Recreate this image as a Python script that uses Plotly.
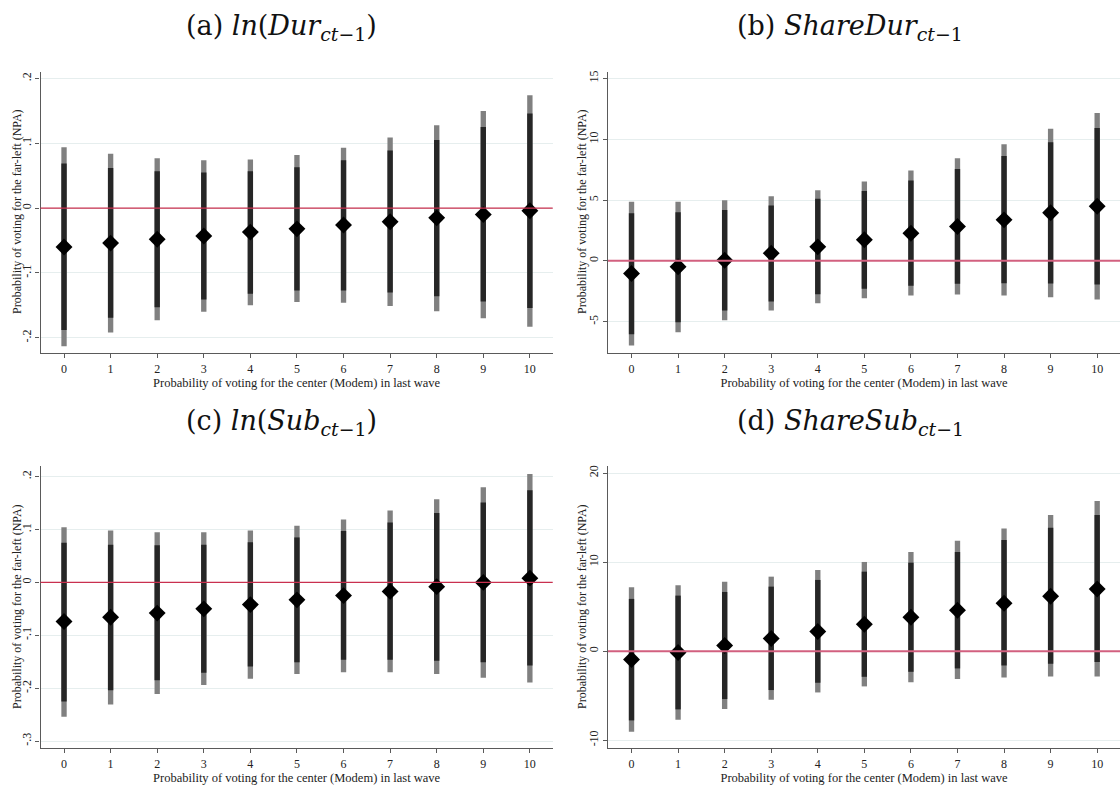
import plotly.graph_objects as go
from plotly.subplots import make_subplots

x = [0, 1, 2, 3, 4, 5, 6, 7, 8, 9, 10]

# (a) ln(Dur)
est_a = [-0.060, -0.054, -0.048, -0.043, -0.037, -0.032, -0.026, -0.021, -0.015, -0.010, -0.004]
in_hi_a = [0.069, 0.062, 0.057, 0.055, 0.057, 0.063, 0.074, 0.089, 0.105, 0.125, 0.146]
in_lo_a = [-0.188, -0.169, -0.153, -0.141, -0.132, -0.127, -0.127, -0.130, -0.136, -0.144, -0.154]
out_hi_a = [0.094, 0.084, 0.077, 0.074, 0.075, 0.082, 0.093, 0.109, 0.128, 0.150, 0.174]
out_lo_a = [-0.213, -0.192, -0.173, -0.160, -0.150, -0.145, -0.146, -0.151, -0.159, -0.170, -0.183]

# (b) ShareDur
est_b = [-1.04, -0.49, 0.05, 0.63, 1.15, 1.73, 2.27, 2.82, 3.37, 3.95, 4.49]
in_hi_b = [3.92, 4.00, 4.19, 4.55, 5.10, 5.75, 6.60, 7.56, 8.63, 9.75, 10.93]
in_lo_b = [-6.03, -5.04, -4.08, -3.34, -2.74, -2.30, -2.05, -1.89, -1.84, -1.86, -1.95]
out_hi_b = [4.85, 4.85, 4.99, 5.32, 5.81, 6.52, 7.42, 8.44, 9.59, 10.85, 12.16]
out_lo_b = [-6.96, -5.86, -4.88, -4.08, -3.48, -3.07, -2.85, -2.77, -2.85, -2.99, -3.18]

# (c) ln(Sub)
est_c = [-0.074, -0.066, -0.058, -0.050, -0.042, -0.033, -0.025, -0.017, -0.008, 0.000, 0.008]
in_hi_c = [0.075, 0.071, 0.070, 0.071, 0.076, 0.085, 0.097, 0.113, 0.131, 0.151, 0.174]
in_lo_c = [-0.225, -0.204, -0.185, -0.171, -0.159, -0.151, -0.146, -0.146, -0.148, -0.151, -0.157]
out_hi_c = [0.104, 0.098, 0.095, 0.095, 0.098, 0.107, 0.119, 0.136, 0.157, 0.180, 0.205]
out_lo_c = [-0.254, -0.231, -0.211, -0.194, -0.182, -0.173, -0.170, -0.170, -0.173, -0.180, -0.189]

# (d) ShareSub
est_d = [-0.93, -0.15, 0.64, 1.42, 2.21, 3.03, 3.81, 4.60, 5.38, 6.17, 6.99]
in_hi_d = [5.87, 6.24, 6.65, 7.25, 8.00, 8.93, 9.94, 11.14, 12.49, 13.87, 15.29]
in_lo_d = [-7.78, -6.54, -5.38, -4.37, -3.55, -2.88, -2.32, -1.94, -1.61, -1.42, -1.23]
out_hi_d = [7.18, 7.40, 7.81, 8.37, 9.12, 10.02, 11.14, 12.41, 13.79, 15.29, 16.86]
out_lo_d = [-9.05, -7.70, -6.50, -5.46, -4.64, -3.96, -3.48, -3.14, -2.95, -2.84, -2.84]

titles = [
    "(a) <i>ln</i>(<i>Dur</i><sub><i>ct</i>−1</sub>)",
    "(b) <i>ShareDur</i><sub><i>ct</i>−1</sub>",
    "(c) <i>ln</i>(<i>Sub</i><sub><i>ct</i>−1</sub>)",
    "(d) <i>ShareSub</i><sub><i>ct</i>−1</sub>",
]
ytick_vals_a = [-0.2, -0.1, 0, 0.1, 0.2]
ytick_text_a = ["-.2", "-.1", "0", ".1", ".2"]
ytick_vals_b = [-5, 0, 5, 10, 15]
ytick_vals_c = [-0.3, -0.2, -0.1, 0, 0.1, 0.2]
ytick_text_c = ["-.3", "-.2", "-.1", "0", ".1", ".2"]
ytick_vals_d = [-10, 0, 10, 20]

xtitle = "Probability of voting for the center (Modem) in last wave"
ytitle = "Probability of voting for the far-left (NPA)"

panels = [
    (1, 1, est_a, in_lo_a, in_hi_a, out_lo_a, out_hi_a, ytick_vals_a, ytick_text_a, [-0.224, 0.2105]),
    (1, 2, est_b, in_lo_b, in_hi_b, out_lo_b, out_hi_b, ytick_vals_b, [str(v) for v in ytick_vals_b], [-7.6, 15.55]),
    (2, 1, est_c, in_lo_c, in_hi_c, out_lo_c, out_hi_c, ytick_vals_c, ytick_text_c, [-0.313, 0.220]),
    (2, 2, est_d, in_lo_d, in_hi_d, out_lo_d, out_hi_d, ytick_vals_d, [str(v) for v in ytick_vals_d], [-10.88, 20.8]),
]

W, H = 1120, 785
fig = make_subplots(rows=2, cols=2)

font = "Liberation Serif, Times New Roman, serif"

for row, col, est, in_lo, in_hi, out_lo, out_hi, tv, tt, yr in panels:
    # outer interval (lighter)
    fig.add_trace(go.Bar(x=x, y=[h - l for h, l in zip(out_hi, out_lo)], base=out_lo,
                         width=0.115, marker=dict(color="#808080", line=dict(width=0)),
                         showlegend=False), row=row, col=col)
    # inner interval (dark)
    fig.add_trace(go.Bar(x=x, y=[h - l for h, l in zip(in_hi, in_lo)], base=in_lo,
                         width=0.115, marker=dict(color="#262626", line=dict(width=0)),
                         showlegend=False), row=row, col=col)
    # point estimate
    fig.add_trace(go.Scatter(x=x, y=est, mode="markers",
                             marker=dict(symbol="diamond", color="black", size=13),
                             showlegend=False), row=row, col=col)
    thick = 2 if col == 2 else 1.3
    zcol = "#d2607f" if col == 2 else "#c9304f"
    fig.add_hline(y=0, line=dict(color=zcol, width=thick), row=row, col=col)

    fig.update_yaxes(range=yr, tickvals=tv, ticktext=tt, tickangle=-90,
                     showgrid=True, gridcolor="#e6eeee", gridwidth=1, zeroline=False,
                     showline=True, linecolor="#5a5a5a", linewidth=1.3,
                     ticks="outside", ticklen=4, tickcolor="#5a5a5a",
                     tickfont=dict(family=font, size=12, color="#222"),
                     row=row, col=col)
    fig.update_xaxes(range=[-0.505, 10.49], tickvals=x, ticktext=[str(v) for v in x],
                     showgrid=False, zeroline=False,
                     showline=True, linecolor="#5a5a5a", linewidth=1.3,
                     ticks="outside", ticklen=4, tickcolor="#5a5a5a",
                     tickfont=dict(family=font, size=12, color="#222"),
                     title=dict(text=xtitle, font=dict(family=font, size=12.5, color="#222"), standoff=0),
                     row=row, col=col)

# panel positions (pixels -> paper)
xl = [40.5 / W, 552.7 / W]
xr = [608 / W, 1.0]
yt = [1 - 353.3 / H, 1 - 71.7 / H]
yb = [1 - 748 / H, 1 - 466 / H]
fig.update_layout(
    xaxis=dict(domain=xl), yaxis=dict(domain=yt),
    xaxis2=dict(domain=xr), yaxis2=dict(domain=yt),
    xaxis3=dict(domain=xl), yaxis3=dict(domain=yb),
    xaxis4=dict(domain=xr), yaxis4=dict(domain=yb),
)

# y-axis titles placed beside each panel
ytitle_pos = [(17, 212), (582, 212), (17, 607), (582, 607)]
for px, py in ytitle_pos:
    fig.add_annotation(text=ytitle, x=px / W, y=1 - py / H, xref="paper", yref="paper",
                       xanchor="center", yanchor="middle", textangle=-90, showarrow=False,
                       font=dict(family=font, size=12, color="#222"))

title_pos = [(281, 28), (850, 28), (281, 422), (850, 422)]
for t, (px, py) in zip(titles, title_pos):
    fig.add_annotation(text=t, x=px / W, y=1 - py / H, xref="paper", yref="paper",
                       xanchor="center", yanchor="middle", showarrow=False,
                       font=dict(family="DejaVu Serif, serif", size=27, color="#111"))

fig.update_layout(
    width=W, height=H,
    margin=dict(l=0, r=0, t=0, b=0),
    paper_bgcolor="white", plot_bgcolor="white",
    barmode="overlay",
    showlegend=False,
)

fig.write_html("out.html", config={"displayModeBar": False},
               post_script="document.body.style.margin='0';")
